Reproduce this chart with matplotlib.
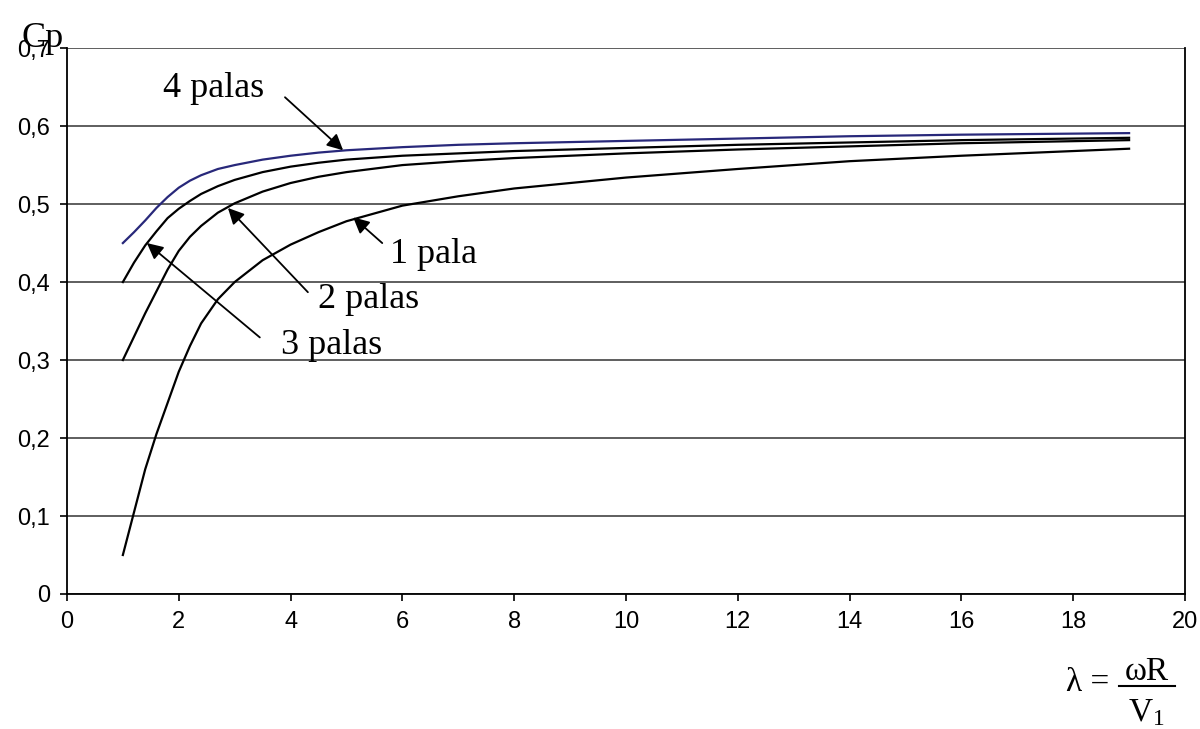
import numpy as np
import matplotlib
matplotlib.use("Agg")
import matplotlib.pyplot as plt
from matplotlib.lines import Line2D
from matplotlib.ticker import FuncFormatter

# lambda values
x_vals = [1, 1.2, 1.4, 1.6, 1.8, 2, 2.2, 2.4, 2.7, 3, 3.5, 4, 4.5, 5,
          6, 7, 8, 10, 12, 14, 16, 19]

cp_4 = [0.450, 0.464, 0.479, 0.495, 0.509, 0.521, 0.530, 0.537, 0.545, 0.550,
        0.557, 0.562, 0.566, 0.569, 0.573, 0.576, 0.578, 0.581, 0.584, 0.587,
        0.589, 0.591]
cp_3 = [0.400, 0.425, 0.447, 0.465, 0.482, 0.494, 0.504, 0.513, 0.523, 0.531,
        0.541, 0.548, 0.553, 0.557, 0.562, 0.565, 0.568, 0.572, 0.576, 0.579,
        0.582, 0.585]
cp_2 = [0.300, 0.330, 0.360, 0.388, 0.416, 0.440, 0.458, 0.472, 0.489, 0.501,
        0.516, 0.527, 0.535, 0.541, 0.550, 0.555, 0.559, 0.565, 0.570, 0.574,
        0.578, 0.582]
cp_1 = [0.050, 0.105, 0.160, 0.205, 0.245, 0.285, 0.318, 0.347, 0.378, 0.400,
        0.428, 0.448, 0.464, 0.478, 0.498, 0.510, 0.520, 0.534, 0.545, 0.555,
        0.562, 0.571]

labels = ["4 palas", "3 palas", "2 palas", "1 pala"]
x_ticks = list(range(0, 21, 2))
y_ticks = [0, 0.1, 0.2, 0.3, 0.4, 0.5, 0.6, 0.7]

fig = plt.figure(figsize=(12, 7.29), dpi=100)
ax = fig.add_axes([0.0558, 0.1852, 0.9317, 0.7488])

ax.plot(x_vals, cp_1, color="black", lw=1.6)
ax.plot(x_vals, cp_2, color="black", lw=1.6)
ax.plot(x_vals, cp_3, color="black", lw=1.6)
ax.plot(x_vals, cp_4, color="#28287a", lw=1.6)

ax.set_xlim(0, 20)
ax.set_ylim(0, 0.7)
ax.set_xticks(x_ticks)
ax.set_yticks(y_ticks)
ax.yaxis.set_major_formatter(FuncFormatter(
    lambda v, p: "0" if v == 0 else f"{v:.1f}".replace(".", ",")))
ax.tick_params(direction="out", length=5, width=1.2, labelsize=17,
               pad=7, colors="black")
for lab in ax.get_xticklabels() + ax.get_yticklabels():
    lab.set_fontfamily("Liberation Sans")
ax.grid(axis="y", color="#333333", lw=1.1)
ax.set_axisbelow(True)
for s in ax.spines.values():
    s.set_linewidth(1.3)
    s.set_color("black")
ax.spines["top"].set_visible(False)

serif = "Liberation Serif"
arrow = dict(arrowstyle="-|>", color="black", lw=1.3, mutation_scale=24,
             shrinkA=0, shrinkB=0)

# arrows: (head, tail)
ax.annotate("", xy=(4.94, 0.569), xytext=(3.90, 0.637), arrowprops=arrow)
ax.annotate("", xy=(5.12, 0.483), xytext=(5.64, 0.450), arrowprops=arrow)
ax.annotate("", xy=(2.88, 0.495), xytext=(4.31, 0.387), arrowprops=arrow)
ax.annotate("", xy=(1.43, 0.450), xytext=(3.45, 0.329), arrowprops=arrow)

txt = dict(fontsize=26, family=serif, ha="left", va="baseline")
ax.text(1.72, 0.637, labels[0], **txt)
ax.text(5.78, 0.424, labels[3], **txt)
ax.text(4.49, 0.367, labels[2], **txt)
ax.text(3.83, 0.308, labels[1], **txt)

fig.text(0.018, 0.936, "Cp", fontsize=26, family=serif, ha="left", va="baseline")

# x label: lambda = omega R / V1, built as a stacked fraction
W, H = 1200, 729
fig.text(1066 / W, 1 - 683 / H, "λ =", fontsize=24, family=serif,
         ha="left", va="center")
fig.text(1147 / W, 1 - 680 / H, "ωR", fontsize=24, family=serif,
         ha="center", va="baseline")
fig.text(1146 / W, 1 - 721 / H, r"$\mathregular{V_1}$", fontsize=24,
         family=serif, ha="center", va="baseline")
fig.add_artist(Line2D([1119 / W, 1175 / W], [1 - 686 / H, 1 - 686 / H],
                      color="black", lw=1.5))

fig.savefig("out.png", dpi=100, facecolor="white")
